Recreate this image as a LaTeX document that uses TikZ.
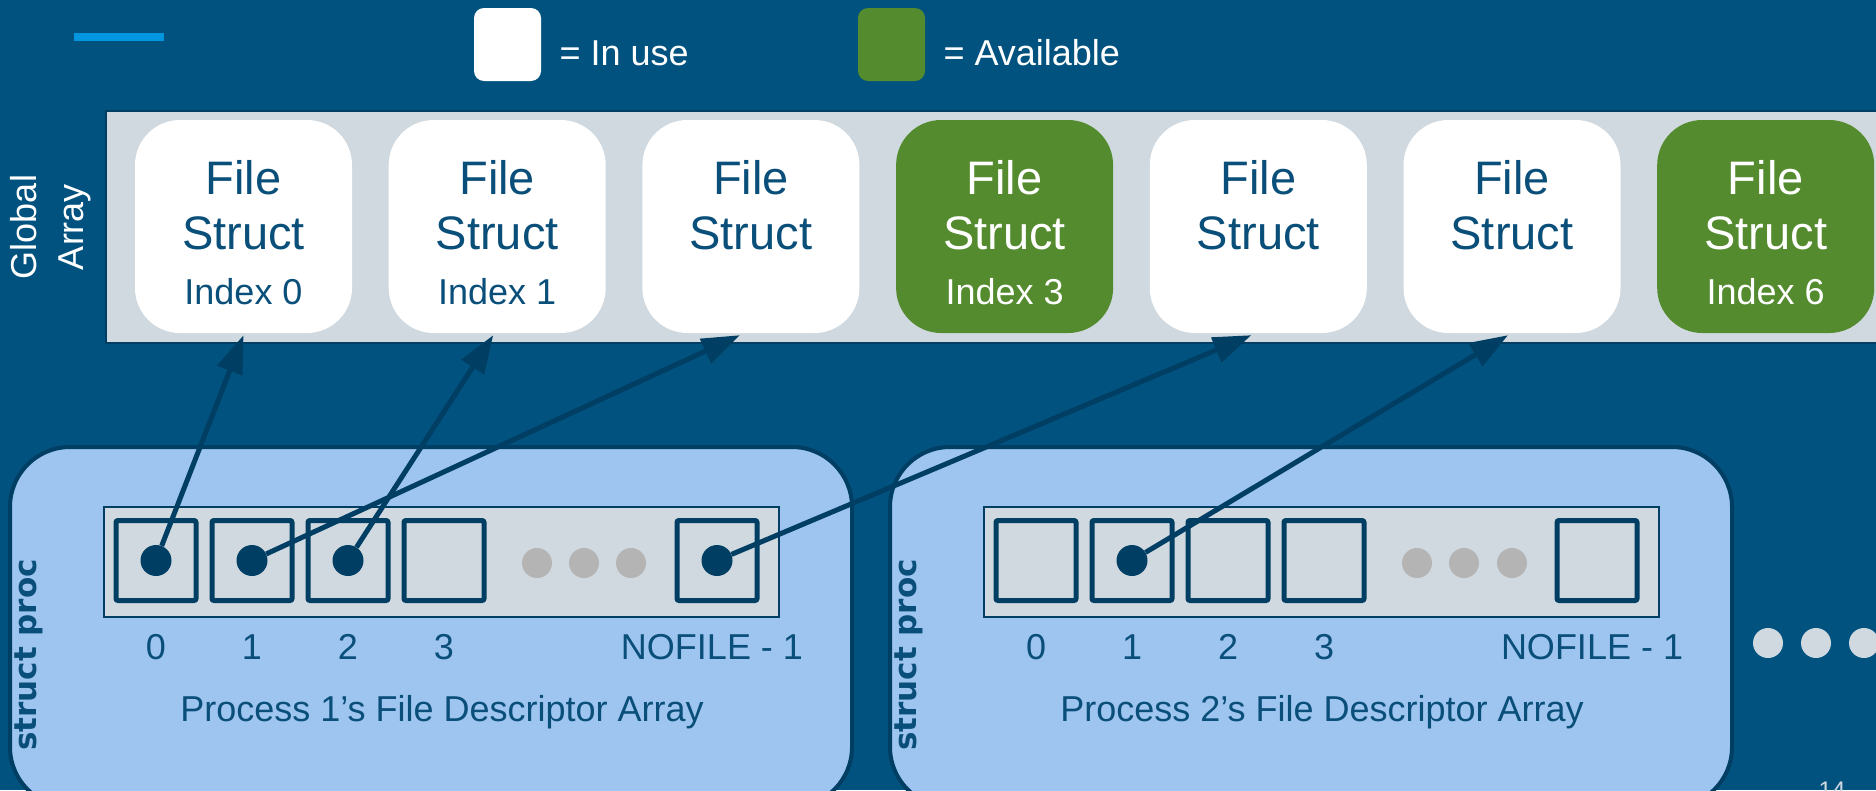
\documentclass[tikz,border=0pt]{standalone}
\usepackage{fontspec}
\setmainfont{Liberation Sans}
\newfontfamily\procfont{DejaVu Sans}
\usetikzlibrary{positioning, arrows.meta}
\definecolor{fondo}{HTML}{01527E}
\definecolor{gris}{HTML}{D0D9DF}
\definecolor{verde}{HTML}{548B2E}
\definecolor{celeste}{HTML}{9DC5F0}
\definecolor{marino}{HTML}{003E63}
\definecolor{azultexto}{HTML}{0A4F7A}
\definecolor{acento}{HTML}{0096E0}
\definecolor{puntos}{HTML}{B4B4B4}
\newcommand{\indice}[1]{{\fontsize{36}{40}\selectfont #1}}
\tikzset{
	>={Triangle[length=38pt,width=26pt]}, % Punta de flecha triangular
	node distance=96pt, % Distancia entre celdas
	fstruct/.style={rounded corners=45pt, fill=white, text=azultexto, minimum width=217pt, minimum height=213pt, align=center, inner sep=0pt, font=\fontsize{47}{55}\selectfont}, % Estructura en uso
	libre/.style={fstruct, fill=verde, text=white}, % Estructura disponible
	leyenda/.style={rounded corners=10pt, minimum width=67pt, minimum height=73pt}, % Cuadros de la leyenda
	textoley/.style={text=white, font=\fontsize{36}{43}\selectfont}, % Texto blanco
	arreglo/.style={fill=gris, draw=marino, line width=1.5pt}, % Fondo gris de un arreglo
	celda/.style={fill=gris, draw=marino, line width=5pt, rounded corners=2pt, minimum width=80pt, minimum height=80pt}, % Celda del descriptor
	punto/.style={circle, fill=marino, minimum size=31pt, inner sep=0pt}, % Puntero
	gpunto/.style={circle, fill=puntos, minimum size=30pt, inner sep=0pt}, % Puntos suspensivos
	proc/.style={rounded corners=60pt, fill=celeste, draw=marino, line width=4pt, minimum width=842pt, minimum height=360pt, anchor=north west}, % Caja del proceso
	etiq/.style={text=azultexto, font=\fontsize{36}{43}\selectfont}, % Etiquetas
	num/.style={etiq, text height=26pt, text depth=0pt}, % Numeros de celda
	procl/.style={rotate=90, text=azultexto, font=\procfont\bfseries\fontsize{31}{31}\selectfont}, % struct proc
	flecha/.style={->, draw=marino, line width=5pt} % Arcos dirigidos
}

\begin{document}
\begin{tikzpicture}[x=1pt, y=-1pt]
	\useasboundingbox (0,0) rectangle (1876,790);
	\fill[fondo] (0,0) rectangle (1876,790);
	\draw[acento, line width=8pt] (74,37) -- (164,37);
	% leyenda
	\node[leyenda, fill=white] (uso) at (507.5,44.5) {};
	\node[textoley, anchor=west] (usotxt) at (556,53) {= In use};
	\node[leyenda, fill=verde] (disp) at (891.5,44.5) {};
	\node[textoley, anchor=west] (disptxt) at (940,53) {= Available};
	% arreglo global
	\node[arreglo, minimum width=1790pt, minimum height=232pt, anchor=north west] (global) at (105,110) {};
	\node[textoley, rotate=90, align=center, font=\fontsize{36}{47}\selectfont] (globaltxt) at (51,227) {Global\\Array};
	\begin{scope}[node distance=253.7pt]
		\node[fstruct] (fs0) at (243.5,226.5) {\rule{0pt}{46pt}File\\Struct\\\indice{Index 0}};
		\node[fstruct, right of=fs0] (fs1) {\rule{0pt}{46pt}File\\Struct\\\indice{Index 1}};
		\node[fstruct, right of=fs1] (fs2) {\rule{0pt}{46pt}File\\Struct\\~};
		\node[libre, right of=fs2] (fs3) {\rule{0pt}{46pt}File\\Struct\\\indice{Index 3}};
		\node[fstruct, right of=fs3] (fs4) {\rule{0pt}{46pt}File\\Struct\\~};
		\node[fstruct, right of=fs4] (fs5) {\rule{0pt}{46pt}File\\Struct\\~};
		\node[libre, right of=fs5] (fs6) {\rule{0pt}{46pt}File\\Struct\\\indice{Index 6}};
	\end{scope}
	% proceso 1
	\node[proc] (p1) at (8,445) {};
	\node[arreglo] (fd1) at (441.5,562) [minimum width=675pt, minimum height=110pt] {};
	\node[celda] (a0) at (156,560.5) {};
	\node[celda, right of=a0] (a1) {};
	\node[celda, right of=a1] (a2) {};
	\node[celda, right of=a2] (a3) {};
	\node[celda] (an) at (717,560.5) {};
	\node[gpunto] (g1) at (537,563) {};
	\node[gpunto] (g2) at (584,563) {};
	\node[gpunto] (g3) at (631,563) {};
	\node[punto] (d0) at (a0) {};
	\node[punto] (d1) at (a1) {};
	\node[punto] (d2) at (a2) {};
	\node[punto] (dn) at (an) {};
	\begin{scope}[node distance=86pt]
		\node[num, below of=a0] (l0) {0};
		\node[num, below of=a1] (l1) {1};
		\node[num, below of=a2] (l2) {2};
		\node[num, below of=a3] (l3) {3};
		\node[num, below of=an, xshift=-5pt] (ln) {NOFILE - 1};
	\end{scope}
	\node[etiq] (t1) at (442,712) {Process 1’s File Descriptor Array};
	\node[procl] (s1) at (29,655) {struct proc};
	% proceso 2
	\node[proc] (p2) at (888,445) {};
	\node[arreglo] (fd2) at (1321.5,562) [minimum width=675pt, minimum height=110pt] {};
	\node[celda] (b0) at (1036,560.5) {};
	\node[celda, right of=b0] (b1) {};
	\node[celda, right of=b1] (b2) {};
	\node[celda, right of=b2] (b3) {};
	\node[celda] (bn) at (1597,560.5) {};
	\node[gpunto] (h1) at (1417,563) {};
	\node[gpunto] (h2) at (1464,563) {};
	\node[gpunto] (h3) at (1512,563) {};
	\node[punto] (e1) at (b1) {};
	\begin{scope}[node distance=86pt]
		\node[num, below of=b0] (m0) {0};
		\node[num, below of=b1] (m1) {1};
		\node[num, below of=b2] (m2) {2};
		\node[num, below of=b3] (m3) {3};
		\node[num, below of=bn, xshift=-5pt] (mn) {NOFILE - 1};
	\end{scope}
	\node[etiq] (t2) at (1322,712) {Process 2’s File Descriptor Array};
	\node[procl] (s2) at (909,655) {struct proc};
	% punteros
	\draw[flecha] (d0) -- ([yshift=-2pt]fs0.south);
	\draw[flecha] (d2) -- ([xshift=-4pt, yshift=-2pt]fs1.south);
	\draw[flecha] (d1) -- ([xshift=-11pt, yshift=-2pt]fs2.south);
	\draw[flecha] (dn) -- ([xshift=-7pt, yshift=-2pt]fs4.south);
	\draw[flecha] (e1) -- ([xshift=-4pt, yshift=-2pt]fs5.south);
	% mas procesos
	\node[gpunto, fill=gris] (r1) at (1768,643) {};
	\node[gpunto, fill=gris] (r2) at (1816,643) {};
	\node[gpunto, fill=gris] (r3) at (1864,643) {};
	\node[text=gris, anchor=north, inner sep=0pt, font=\fontsize{24}{24}\selectfont] (pag) at (1832,782) {14};
\end{tikzpicture}
\end{document}
